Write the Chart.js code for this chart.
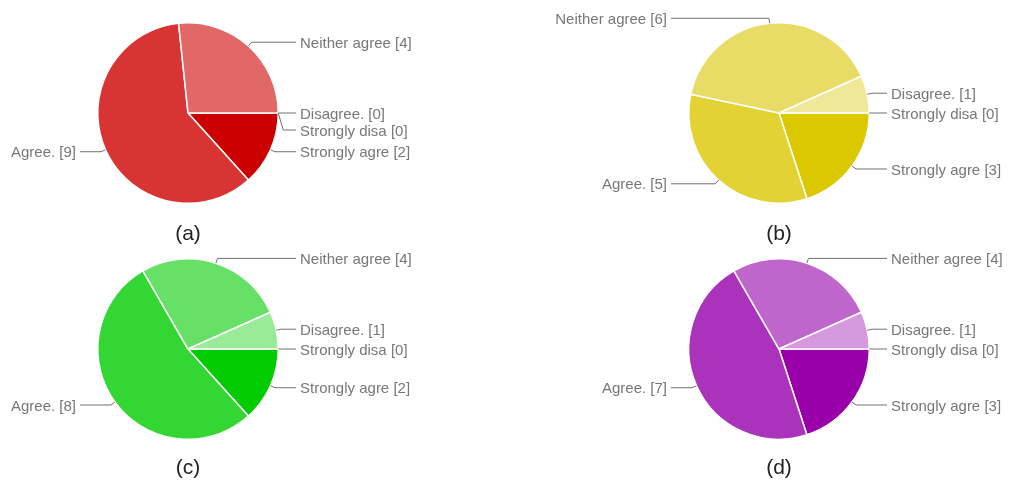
<!DOCTYPE html>
<html lang="en">
<head>
  <meta charset="UTF-8">
  <title>Survey pies</title>
  <script src="https://cdn.jsdelivr.net/npm/chart.js"></script>
  <style>
    html, body { margin: 0; padding: 0; background: #fff; }
    body { width: 1010px; height: 481px; position: relative; overflow: hidden; font-family: "Liberation Sans", Arial, sans-serif; }
    .box { position: absolute; width: 505px; height: 240px; }
    .cap { position: absolute; width: 60px; margin-left: -30px; text-align: center; font-size: 21px; line-height: 21px; color: #222; }
  </style>
</head>
<body>
  <div class="box" style="left:0;top:0"><canvas id="pie-a" width="505" height="240"></canvas></div>
  <div class="box" style="left:505px;top:0"><canvas id="pie-b" width="505" height="240"></canvas></div>
  <div class="box" style="left:0;top:240px"><canvas id="pie-c" width="505" height="240"></canvas></div>
  <div class="box" style="left:505px;top:240px"><canvas id="pie-d" width="505" height="240"></canvas></div>
  <div class="cap" style="left:188px;top:222px">(a)</div>
  <div class="cap" style="left:779px;top:222px">(b)</div>
  <div class="cap" style="left:188px;top:456px">(c)</div>
  <div class="cap" style="left:779px;top:456px">(d)</div>

  <script>
    // categories, clockwise from 3 o'clock
    const categories = ['Strongly agre', 'Agree.', 'Neither agree', 'Disagree.', 'Strongly disa'];

    const valuesA = [2, 9, 4, 0, 0];
    const valuesB = [3, 5, 6, 1, 0];
    const valuesC = [2, 8, 4, 1, 0];
    const valuesD = [3, 7, 4, 1, 0];

    const coloursA = ['#cc0000', '#d83434', '#e26868', '#eb9999', '#f5cccc'];
    const coloursB = ['#dcc800', '#e2d233', '#e8dc66', '#f0e899', '#f8f3cc'];
    const coloursC = ['#00cc00', '#33d633', '#66e066', '#99eb99', '#ccf5cc'];
    const coloursD = ['#9900aa', '#ab33bb', '#bf66cc', '#d699de', '#ebccee'];

    const RADIUS = 91;

    // labels on the side with a bent leader line
    const sideLabels = {
      id: 'sideLabels',
      afterDatasetsDraw(chart) {
        const ctx = chart.ctx;
        const meta = chart.getDatasetMeta(0);
        const vals = chart.data.datasets[0].data;
        const right = [], left = [];

        meta.data.forEach((arc, i) => {
          const p = arc.getProps(['x', 'y', 'startAngle', 'endAngle', 'outerRadius'], true);
          const mid = (p.startAngle + p.endAngle) / 2;
          const c = Math.cos(mid), s = Math.sin(mid);
          const item = {
            i: i,
            px: p.x + p.outerRadius * c,
            py: p.y + p.outerRadius * s,
            bx: p.x + (p.outerRadius + 5) * c,
            ly: p.y + (p.outerRadius + 5) * s,
            cx: p.x,
            text: chart.data.labels[i] + ' [' + vals[i] + ']'
          };
          (c >= -1e-6 ? right : left).push(item);
        });

        const spread = list => {
          list.sort((a, b) => (a.ly - b.ly) || (a.i - b.i));
          for (let k = 1; k < list.length; k++) {
            if (list[k].ly < list[k - 1].ly + 17) list[k].ly = list[k - 1].ly + 17;
          }
        };
        spread(right);
        spread(left);

        ctx.save();
        ctx.font = '15px "Liberation Sans", Arial, sans-serif';
        ctx.textBaseline = 'middle';
        ctx.lineWidth = 1;
        ctx.strokeStyle = '#707070';
        ctx.fillStyle = '#777777';

        right.forEach(it => {
          ctx.beginPath();
          ctx.moveTo(it.px, it.py);
          ctx.lineTo(it.bx, it.ly);
          ctx.lineTo(it.cx + 108, it.ly);
          ctx.stroke();
          ctx.textAlign = 'left';
          ctx.fillText(it.text, it.cx + 112, it.ly + 1.5);
        });
        left.forEach(it => {
          ctx.beginPath();
          ctx.moveTo(it.px, it.py);
          ctx.lineTo(it.bx, it.ly);
          ctx.lineTo(it.cx - 108, it.ly);
          ctx.stroke();
          ctx.textAlign = 'right';
          ctx.fillText(it.text, it.cx - 112, it.ly + 1.5);
        });
        ctx.restore();
      }
    };

    function makePie(id, values, colours, cx, cy) {
      const W = 505, H = 240;
      return new Chart(document.getElementById(id), {
        type: 'pie',
        data: {
          labels: categories,
          datasets: [{
            data: values,
            backgroundColor: colours,
            borderColor: '#ffffff',
            borderWidth: 1.5
          }]
        },
        options: {
          responsive: false,
          animation: false,
          rotation: 90,
          layout: {
            padding: { left: cx - RADIUS, right: W - cx - RADIUS, top: cy - RADIUS, bottom: H - cy - RADIUS }
          },
          plugins: {
            legend: { display: false },
            tooltip: { enabled: false }
          }
        },
        plugins: [sideLabels]
      });
    }

    makePie('pie-a', valuesA, coloursA, 188, 113);
    makePie('pie-b', valuesB, coloursB, 274, 113);
    makePie('pie-c', valuesC, coloursC, 188, 109);
    makePie('pie-d', valuesD, coloursD, 274, 109);
  </script>
</body>
</html>
